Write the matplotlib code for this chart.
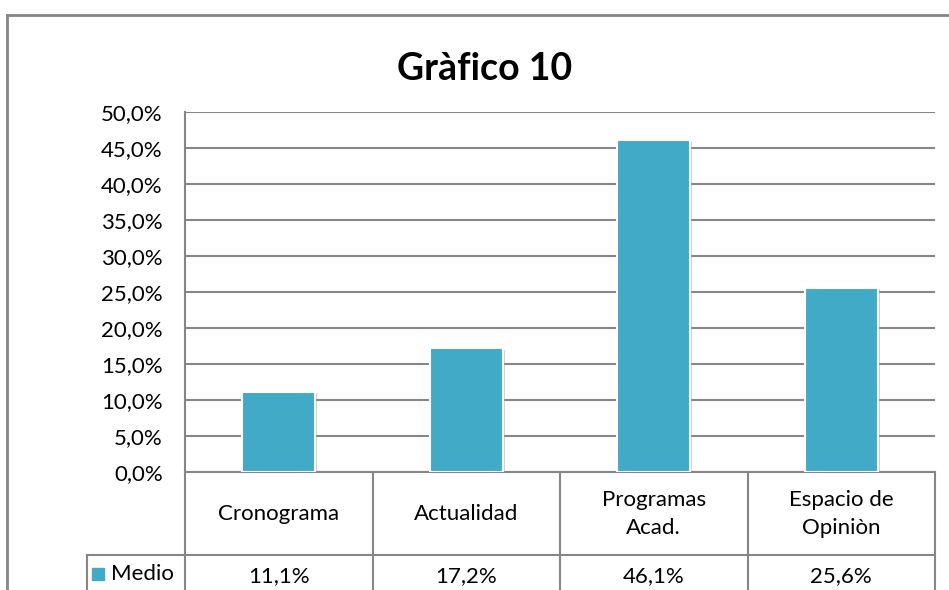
import numpy as np
import matplotlib.pyplot as plt
import matplotlib.patheffects as pe
from matplotlib.ticker import FuncFormatter

plt.rcParams['font.family'] = ['Lato', 'DejaVu Sans']

# data
categorias = ['Cronograma', 'Actualidad', 'Programas\nAcad.', 'Espacio de\nOpiniòn']
medio = [11.1, 17.2, 46.1, 25.6]
serie = 'Medio'
titulo = 'Gràfico 10'

azul = '#41abc7'
gris = '#868686'

W, H = 949, 590
fig = plt.figure(figsize=(W / 100, H / 100), dpi=100)

# outer chart frame (right/bottom cut off in the picture)
fig.add_artist(plt.Line2D([7 / W, 7 / W], [0, 1 - 15 / H], color=gris, lw=2))
fig.add_artist(plt.Line2D([7 / W, 1], [1 - 15 / H, 1 - 15 / H], color=gris, lw=2))

x0, x1, ytop, ybot = 185, 935, 112, 472
ax = fig.add_axes([x0 / W, 1 - ybot / H, (x1 - x0) / W, (ybot - ytop) / H])

x = np.arange(len(categorias))
bars = ax.bar(x, medio, width=0.39, color=azul, edgecolor='white', linewidth=1.5, zorder=3)
for b in bars:
    b.set_path_effects([pe.SimplePatchShadow(offset=(1.5, -1), shadow_rgbFace='#999999', alpha=0.45),
                        pe.Normal()])

ax.set_xlim(-0.5, len(categorias) - 0.5)
ax.set_ylim(0, 50)
ax.set_yticks(np.arange(0, 51, 5))
ax.yaxis.set_major_formatter(FuncFormatter(lambda v, p: f'{v:.1f}%'.replace('.', ',')))
ax.tick_params(axis='y', length=0, pad=16, labelsize=16)
ax.set_xticks([])
ax.grid(axis='y', color=gris, lw=1.5)
ax.set_axisbelow(True)
for s in ['top', 'right']:
    ax.spines[s].set_visible(False)
ax.spines['left'].set_color(gris)
ax.spines['bottom'].set_color(gris)
ax.spines['left'].set_linewidth(1.5)
ax.spines['bottom'].set_linewidth(1.5)

fig.text(485 / W, 1 - 69 / H, titulo, ha='center', va='center', fontsize=27, fontweight='bold')

# data table below the axes
hpx = ybot - ytop
def ya(py):
    return -(py - ybot) / hpx

r1 = ya(555)
r2 = ya(600)
left_cell = (87 - x0) / 187.5 - 0.5
lk = dict(color=gris, lw=1.5, clip_on=False, transform=ax.get_xaxis_transform())
for c in np.arange(-0.5, len(categorias), 1.0):
    ax.plot([c, c], [0, r2], **lk)
ax.plot([left_cell, len(categorias) - 0.5], [r1, r1], **lk)
ax.plot([left_cell, left_cell], [r1, r2], **lk)

tr = ax.get_xaxis_transform()
for i, (cat, v) in enumerate(zip(categorias, medio)):
    ax.text(i, ya(514), cat, ha='center', va='center', fontsize=16, transform=tr,
            linespacing=1.45)
    ax.text(i, ya(576), f'{v:.1f}%'.replace('.', ','), ha='center', va='center',
            fontsize=16, transform=tr)

fig.add_artist(plt.Rectangle((92 / W, 1 - 580 / H), 12 / W, 12 / H, color=azul))
fig.text(111 / W, 1 - 574 / H, serie, ha='left', va='center', fontsize=16)

fig.savefig('out.png', dpi=100)
